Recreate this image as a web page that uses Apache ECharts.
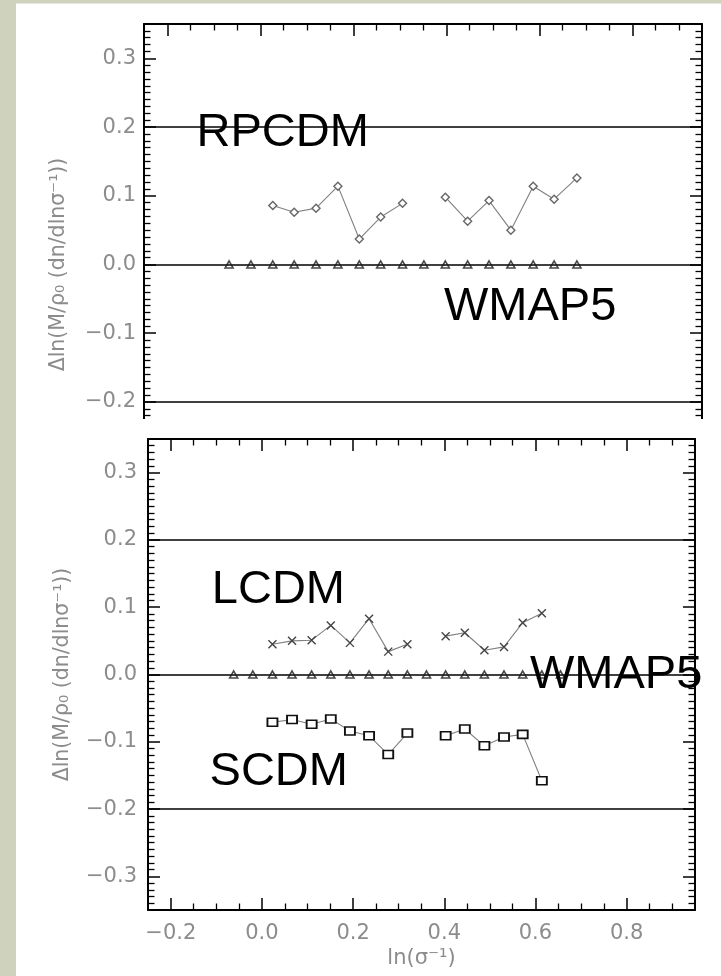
<!DOCTYPE html>
<html><head><meta charset="utf-8">
<script src="https://cdn.jsdelivr.net/npm/echarts@6/dist/echarts.min.js"></script>
<style>html,body{margin:0;padding:0;background:#fff}#c{width:721px;height:976px}</style>
</head><body><div id="c"></div>
<script>
// ---- data ----
const xTop     = [-0.067, -0.020, 0.027, 0.073, 0.120, 0.167, 0.213, 0.259, 0.306, 0.352, 0.398, 0.446, 0.492, 0.539, 0.587, 0.632, 0.681];
const wmap5Top = [0, 0, 0, 0, 0, 0, 0, 0, 0, 0, 0, 0, 0, 0, 0, 0, 0];
const rpcdm    = [null, null, 0.086, 0.076, 0.082, 0.114, 0.037, 0.069, 0.089, null, 0.098, 0.063, 0.093, 0.050, 0.114, 0.095, 0.126];

const xBot     = [-0.062, -0.020, 0.023, 0.066, 0.109, 0.151, 0.193, 0.235, 0.277, 0.319, 0.361, 0.403, 0.445, 0.488, 0.531, 0.572, 0.614, 0.655];
const wmap5Bot = [0, 0, 0, 0, 0, 0, 0, 0, 0, 0, 0, 0, 0, 0, 0, 0, 0, 0];
const lcdm     = [null, null, 0.045, 0.050, 0.051, 0.073, 0.047, 0.083, 0.034, 0.045, null, 0.057, 0.062, 0.036, 0.041, 0.077, 0.091, null];
const scdm     = [null, null, -0.071, -0.067, -0.074, -0.066, -0.084, -0.091, -0.119, -0.087, null, -0.091, -0.081, -0.106, -0.093, -0.089, -0.158, null];

const refLines = [0.2, 0, -0.2];
const xRange = [-0.25, 0.95];
const yRange = [-0.35, 0.35];
const yName = 'Δln(M/ρ₀ (dn/dlnσ⁻¹))';
const xName = 'ln(σ⁻¹)';
const notesTop = [{name: 'RPCDM', value: [-0.137, 0.191]}, {name: 'WMAP5', value: [0.395, -0.062]}];
const notesBot = [{name: 'LCDM', value: [-0.110, 0.125]}, {name: 'SCDM', value: [-0.115, -0.145]}, {name: 'WMAP5', value: [0.588, -0.001]}];

// ---- helpers ----
function segments(xs, ys) {
  const out = []; let cur = [];
  ys.forEach((y, i) => {
    if (y === null) { if (cur.length) out.push(cur); cur = []; }
    else cur.push([xs[i], y]);
  });
  if (cur.length) out.push(cur);
  return out;
}
const labelColor = '#8c8c8c';
function fmt(v) {
  if (Math.abs(v * 10 - Math.round(v * 10)) > 1e-6) return '';
  let s = (Math.round(v * 10) / 10).toFixed(1);
  if (s === '-0.0') s = '0.0';
  return s.replace('-', '\u2212');
}
function axisCommon(zl, minorSplit) {
  return {
    type: 'value', zlevel: zl,
    axisLine: {show: true, onZero: false, lineStyle: {color: '#000', width: 2}},
    axisTick: {show: true, inside: true, length: 12, lineStyle: {color: '#000', width: 1.5}},
    minorTick: {show: true, splitNumber: minorSplit, length: 6.5, lineStyle: {color: '#000', width: 1.3}},
    splitLine: {show: false}, minorSplitLine: {show: false}
  };
}
function xAx(grid, pos, zl, showLabel, name) {
  return Object.assign(axisCommon(zl, 4), {
    gridIndex: grid, position: pos, min: xRange[0], max: xRange[1],
    axisLabel: {show: showLabel, formatter: fmt, margin: 13, fontFamily: 'DejaVu Sans', fontSize: 21, color: labelColor},
    name: name || '', nameLocation: 'middle', nameGap: 38,
    nameTextStyle: {fontFamily: 'DejaVu Sans', fontSize: 21, color: labelColor}
  });
}
function yAx(grid, pos, zl, showLabel, margin) {
  return Object.assign(axisCommon(zl, 10), {
    gridIndex: grid, position: pos, min: yRange[0], max: yRange[1],
    axisLabel: {show: showLabel, formatter: fmt, margin: margin, fontFamily: 'DejaVu Sans', fontSize: 21, color: labelColor},
    name: showLabel ? yName : '', nameLocation: 'middle', nameRotate: 90, nameGap: 75,
    nameTextStyle: {fontFamily: 'DejaVu Sans', fontSize: 20.5, color: labelColor}
  });
}
function markSeries(xi, yi, zl, xs, ys) {
  return {
    type: 'scatter', xAxisIndex: xi, yAxisIndex: yi, zlevel: zl, z: 3,
    data: xs.map((x, i) => [x, ys[i]]),
    symbol: 'triangle', symbolSize: [8, 7],
    itemStyle: {color: 'rgba(0,0,0,0)', borderColor: '#1a1a1a', borderWidth: 1.6},
    silent: true,
    markLine: {
      silent: true, symbol: 'none', label: {show: false}, animation: false,
      zlevel: zl, z: 2,
      lineStyle: {color: '#000', width: 1.6, type: 'solid'},
      data: refLines.map(v => ({yAxis: v}))
    }
  };
}
function lineSeries(xi, yi, zl, xs, ys, symbol, size, itemStyle) {
  return segments(xs, ys).map(seg => ({
    type: 'line', xAxisIndex: xi, yAxisIndex: yi, zlevel: zl, z: 4,
    data: seg, symbol: symbol, symbolSize: size, showSymbol: true,
    lineStyle: {color: '#808080', width: 1.1},
    itemStyle: itemStyle, silent: true
  }));
}
function noteSeries(xi, yi, zl, notes, fs) {
  return {
    type: 'scatter', xAxisIndex: xi, yAxisIndex: yi, zlevel: zl, z: 6,
    data: notes, symbolSize: 0, silent: true,
    itemStyle: {color: '#000', opacity: 1},
    label: {show: true, position: [0, 0], align: 'left', verticalAlign: 'middle', formatter: '{b}',
      fontFamily: 'Liberation Sans', fontSize: fs, color: '#000', opacity: 1, textBorderWidth: 0}
  };
}

const crossPath = 'path://M0,0L10,10M10,0L0,10';
const series = [].concat(
  [markSeries(0, 0, 0, xTop, wmap5Top)],
  lineSeries(0, 0, 0, xTop, rpcdm, 'diamond', 8, {color: '#fff', borderColor: '#666', borderWidth: 1.4}),
  [noteSeries(0, 0, 0, notesTop, 47)],
  [markSeries(2, 2, 2, xBot, wmap5Bot)],
  lineSeries(2, 2, 2, xBot, lcdm, crossPath, 8, {color: 'rgba(0,0,0,0)', borderColor: '#444', borderWidth: 1.4}),
  lineSeries(2, 2, 2, xBot, scdm, 'rect', [10, 8], {color: '#fff', borderColor: '#111', borderWidth: 1.7}),
  [noteSeries(2, 2, 2, notesBot, 47)]
);

const chart = echarts.init(document.getElementById('c'), null, {renderer: 'canvas', width: 721, height: 976});
chart.setOption({
  animation: false,
  backgroundColor: '#ffffff',
  graphic: [
    {type: 'rect', zlevel: 0, z: 0, silent: true, shape: {x: 0, y: 0, width: 16, height: 976}, style: {fill: '#cfd3bd'}},
    {type: 'rect', zlevel: 0, z: 0, silent: true, shape: {x: 0, y: 0, width: 721, height: 3.5}, style: {fill: '#cfd3bd'}},
    {type: 'rect', zlevel: 1, z: 0, silent: true, shape: {x: 16, y: 419, width: 705, height: 557}, style: {fill: '#ffffff'}}
  ],
  grid: [
    {left: 144, top: 24, width: 558, height: 481, zlevel: 0},
    {left: 148, top: 439, width: 547, height: 471, zlevel: 2}
  ],
  xAxis: [
    xAx(0, 'bottom', 0, false),
    xAx(0, 'top', 0, false),
    xAx(1, 'bottom', 2, true, xName),
    xAx(1, 'top', 2, false)
  ],
  yAxis: [
    yAx(0, 'left', 0, true, 8),
    yAx(0, 'right', 0, false, 8),
    yAx(1, 'left', 2, true, 11),
    yAx(1, 'right', 2, false, 8)
  ],
  series: series
});
</script>
</body></html>
